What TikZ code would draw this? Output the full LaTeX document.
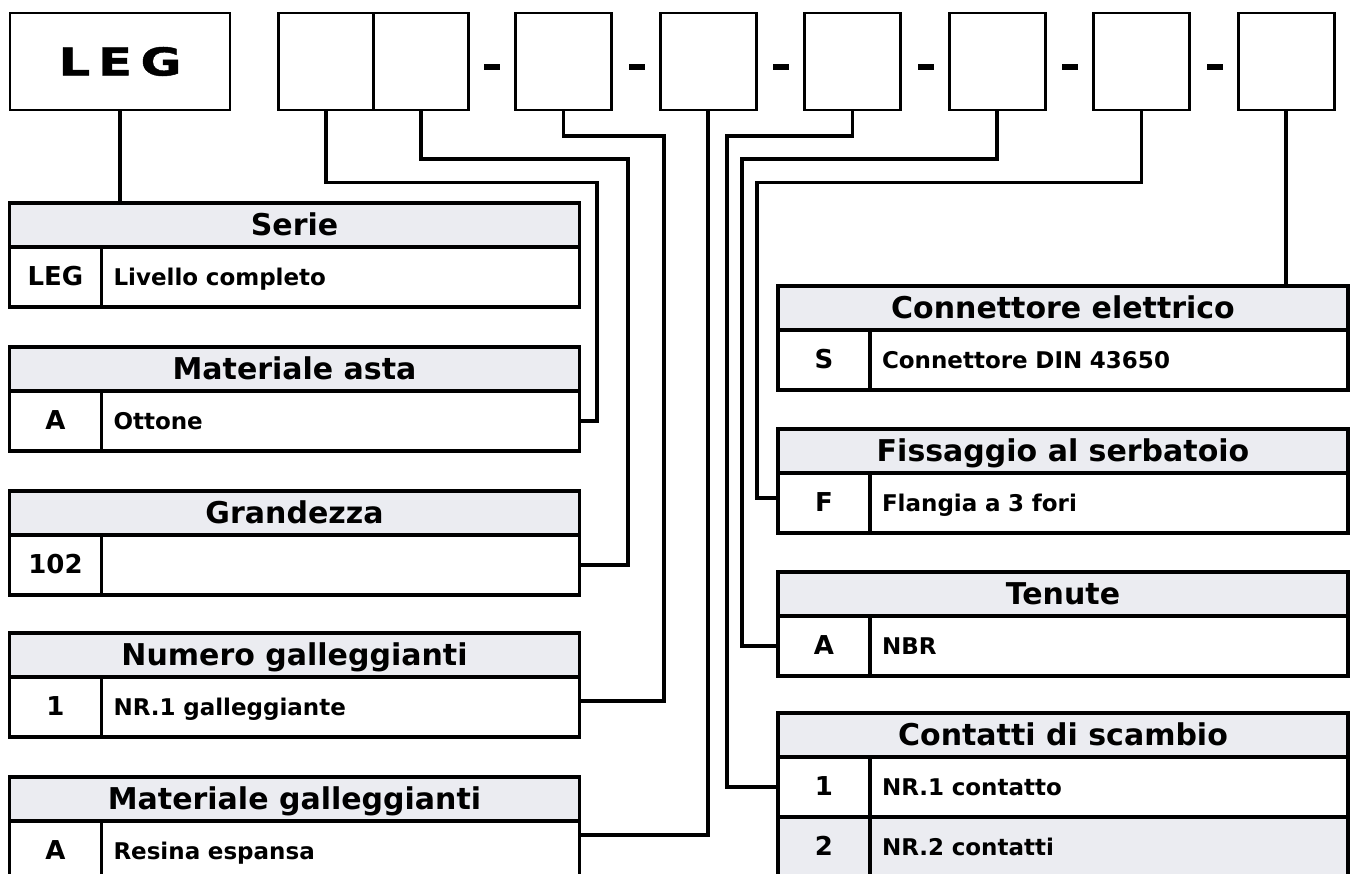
\documentclass[tikz,border=0pt]{standalone}
\usepackage{fontspec}
\setmainfont{DejaVu Sans}
\newfontfamily\legfont[FakeStretch=1.3,FakeBold=1.2]{DejaVu Sans}
\usetikzlibrary{positioning}
\definecolor{headgray}{RGB}{235,236,241}

\tikzset{
  field/.style={draw, line width=2.2pt, outer sep=0pt, minimum width=72pt, minimum height=72.75pt, inner sep=0pt},
  hyph/.style={fill, outer sep=0pt, minimum width=12pt, minimum height=4.5pt, inner sep=0pt},
  head/.style={draw, line width=2.4pt, outer sep=0pt, fill=headgray, minimum width=427.5pt, minimum height=33pt, inner sep=0pt,
    text height=18pt, text depth=3pt, font=\fontsize{22.5}{27}\selectfont\bfseries},
  code/.style={draw, line width=2.4pt, outer sep=0pt, minimum width=69pt, minimum height=45pt, inner sep=0pt,
    text height=15pt, text depth=3pt, font=\fontsize{19.5}{23}\selectfont\bfseries},
  desc/.style={draw, line width=2.4pt, outer sep=0pt, minimum height=45pt, text width=340.5pt, inner xsep=9pt, inner ysep=0pt,
    text height=15pt, text depth=3pt, align=left, font=\fontsize{17.25}{21}\selectfont\bfseries},
  wire/.style={line width=2.6pt}
}

\begin{document}
\begin{tikzpicture}[x=0.75pt, y=-0.75pt]
        \useasboundingbox (0,0) rectangle (1350,874);
        \fill[white] (0,0) rectangle (1350,874);
        \clip (0,0) rectangle (1350,874);

        % code fields
        \node[field, minimum width=165pt, font=\legfont\fontsize{28.8}{30}\selectfont\bfseries] (leg) at (120,61.5) {L\kern.2em E\kern.22em G};
        \node[field, minimum width=71.25pt] (p1) at (326.1,61.5) {};
        \node[field, minimum width=71.25pt, right=0pt of p1] (p2) {};
        \foreach \i in {1,...,6}
            \node[field] (b\i) at ({563.6+144.5*(\i-1)},61.5) {};
        \foreach \i in {1,...,6}
            \node[hyph] (h\i) at ({492.2+144.5*(\i-1)},67.5) {};

        % left tables
        \node[head, anchor=north west] (serieH) at (9.5,203) {Serie};
        \node[code, below right=0pt and 0pt of serieH.south west] (serieC) {LEG};
        \node[desc, right=0pt of serieC] (serieD) {Livello completo};

        \node[head, anchor=north west] (astaH) at (9.5,347) {Materiale asta};
        \node[code, below right=0pt and 0pt of astaH.south west] (astaC) {A};
        \node[desc, right=0pt of astaC] (astaD) {Ottone};

        \node[head, anchor=north west] (grandH) at (9.5,491) {Grandezza};
        \node[code, below right=0pt and 0pt of grandH.south west] (grandC) {102};
        \node[desc, right=0pt of grandC] (grandD) {};

        \node[head, anchor=north west] (numH) at (9.5,633) {Numero galleggianti};
        \node[code, below right=0pt and 0pt of numH.south west] (numC) {1};
        \node[desc, right=0pt of numC] (numD) {NR.1 galleggiante};

        \node[head, anchor=north west] (matgH) at (9.5,777) {Materiale galleggianti};
        \node[code, below right=0pt and 0pt of matgH.south west] (matgC) {A};
        \node[desc, right=0pt of matgC] (matgD) {Resina espansa};

        % right tables
        \node[head, anchor=north west] (connH) at (778,286) {Connettore elettrico};
        \node[code, below right=0pt and 0pt of connH.south west] (connC) {S};
        \node[desc, right=0pt of connC] (connD) {Connettore DIN 43650};

        \node[head, anchor=north west] (fissH) at (778,429) {Fissaggio al serbatoio};
        \node[code, below right=0pt and 0pt of fissH.south west] (fissC) {F};
        \node[desc, right=0pt of fissC] (fissD) {Flangia a 3 fori};

        \node[head, anchor=north west] (tenH) at (778,572) {Tenute};
        \node[code, below right=0pt and 0pt of tenH.south west] (tenC) {A};
        \node[desc, right=0pt of tenC] (tenD) {NBR};

        \node[head, anchor=north west] (contH) at (778,713) {Contatti di scambio};
        \node[code, below right=0pt and 0pt of contH.south west] (contC1) {1};
        \node[desc, right=0pt of contC1] (contD1) {NR.1 contatto};
        \node[code, fill=headgray, below=0pt of contC1] (contC2) {2};
        \node[desc, fill=headgray, right=0pt of contC2] (contD2) {NR.2 contatti};

        % connectors
        \draw[wire] (leg.south) -- (leg.south |- serieH.north);
        \draw[wire] (p1.south) |- (597,182.7) |- (astaD.east);
        \draw[wire] (p2.south) |- (628,159) |- (grandD.east);
        \draw[wire] (b1.south) |- (664,136) |- ([yshift=4.5pt]numD.east);
        \draw[wire] (b2.south) |- ([yshift=12pt]matgD.east);
        \draw[wire] (b3.south) |- (727,136) |- (contC1.west);
        \draw[wire] (b4.south) |- (742,159) |- (tenC.west);
        \draw[wire] (b5.south) |- (757,182.7) |- ([yshift=3.75pt]fissC.west);
        \draw[wire] (b6.south) -- (b6.south |- connH.north);

\end{tikzpicture}
\end{document}
